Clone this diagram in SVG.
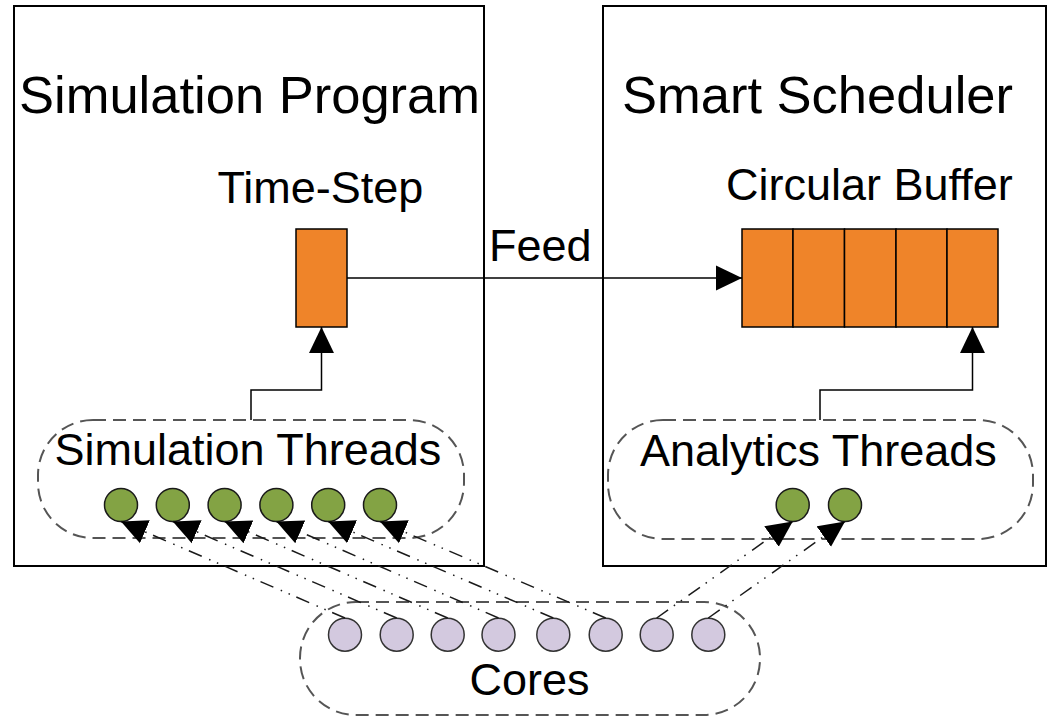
<svg xmlns="http://www.w3.org/2000/svg" width="1053" height="718" viewBox="0 0 1053 718">
  <style>
    .box { fill: #ffffff; stroke: #000000; stroke-width: 2; }
    .group { fill: none; stroke: #555555; stroke-width: 2; stroke-dasharray: 13 7; }
    .cell { fill: #EF8429; stroke: #000000; stroke-width: 1.5; }
    .thread { fill: #83A344; stroke: #1a1a1a; stroke-width: 1.5; }
    .core { fill: #D3C9DF; stroke: #333333; stroke-width: 1.5; }
    .title { font-family: "Liberation Sans", Arial, sans-serif; font-size: 52.5px; fill: #000000; }
    .label { font-family: "Liberation Sans", Arial, sans-serif; font-size: 45px; fill: #000000; }
    .flow { fill: none; stroke: #000000; stroke-width: 1.5; marker-end: url(#tri); }
    .map { fill: none; stroke: #1a1a1a; stroke-width: 1.5; stroke-dasharray: 14 7 1.5 7 1.5 8; marker-end: url(#tri); }
  </style>
  <defs>
    <marker id="tri" markerUnits="userSpaceOnUse" markerWidth="26" markerHeight="26" viewBox="0 0 25 24" refX="25" refY="12" orient="auto">
      <path d="M0,0 L25,12 L0,24 z" fill="#000000"/>
    </marker>
  </defs>

  <!-- Simulation program container -->
  <g id="simulation-program">
    <rect class="box" x="14" y="6" width="470" height="560"/>
    <text class="title" x="19" y="113">Simulation Program</text>
  </g>

  <!-- Smart scheduler container -->
  <g id="smart-scheduler">
    <rect class="box" x="603" y="6" width="443" height="560"/>
    <text class="title" x="622" y="113">Smart Scheduler</text>
  </g>

  <!-- Single time-step block -->
  <g id="time-step">
    <text class="label" x="217.5" y="203">Time-Step</text>
    <rect class="cell" x="296" y="229" width="51" height="98"/>
  </g>

  <!-- Circular buffer of five slots -->
  <g id="circular-buffer">
    <text class="label" x="726" y="200">Circular Buffer</text>
    <rect class="cell" x="742" y="229" width="51" height="98"/>
    <rect class="cell" x="793" y="229" width="51.5" height="98"/>
    <rect class="cell" x="844.5" y="229" width="51.5" height="98"/>
    <rect class="cell" x="896" y="229" width="51" height="98"/>
    <rect class="cell" x="947" y="229" width="51" height="98"/>
  </g>

  <!-- Thread pools and cores -->
  <g id="simulation-threads">
    <rect class="group" x="38" y="420" width="426" height="118" rx="55" ry="55"/>
    <text class="label" x="54.5" y="464.5">Simulation Threads</text>
    <circle class="thread" cx="121" cy="505" r="16.5"/>
    <circle class="thread" cx="172.8" cy="505" r="16.5"/>
    <circle class="thread" cx="224.6" cy="505" r="16.5"/>
    <circle class="thread" cx="276.4" cy="505" r="16.5"/>
    <circle class="thread" cx="328.2" cy="505" r="16.5"/>
    <circle class="thread" cx="380" cy="505" r="16.5"/>
  </g>

  <g id="analytics-threads">
    <rect class="group" x="608" y="420" width="425" height="119" rx="55" ry="55"/>
    <text class="label" x="640" y="465.5">Analytics Threads</text>
    <circle class="thread" cx="792.7" cy="505" r="16.5"/>
    <circle class="thread" cx="845" cy="505" r="16.5"/>
  </g>

  <g id="cores">
    <rect class="group" x="300" y="602" width="460" height="113" rx="56" ry="56"/>
    <text class="label" x="469.5" y="695">Cores</text>
    <circle class="core" cx="345" cy="634.7" r="16.5"/>
    <circle class="core" cx="396.7" cy="634.7" r="16.5"/>
    <circle class="core" cx="447.7" cy="634.7" r="16.5"/>
    <circle class="core" cx="498.5" cy="634.7" r="16.5"/>
    <circle class="core" cx="553.3" cy="634.7" r="16.5"/>
    <circle class="core" cx="605.7" cy="634.7" r="16.5"/>
    <circle class="core" cx="656.7" cy="634.7" r="16.5"/>
    <circle class="core" cx="708.3" cy="634.7" r="16.5"/>
  </g>

  <!-- Connectors -->
  <g id="connectors">
    <text class="label" x="489" y="261">Feed</text>
    <path class="flow" d="M347,278 H742"/>
    <path class="flow" d="M251,420 V390 H321.5 V327"/>
    <path class="flow" d="M820,420 V390 H972.5 V327"/>

    <!-- core to thread assignments -->
    <path class="map" d="M345,618 L121,521.5"/>
    <path class="map" d="M396.7,618 L172.8,521.5"/>
    <path class="map" d="M447.7,618 L224.6,521.5"/>
    <path class="map" d="M498.5,618 L276.4,521.5"/>
    <path class="map" d="M553.3,618 L328.2,521.5"/>
    <path class="map" d="M605.7,618 L380,521.5"/>
    <path class="map" d="M656.7,618 L792.7,521.5"/>
    <path class="map" d="M708.3,618 L845,521.5"/>
  </g>
</svg>
